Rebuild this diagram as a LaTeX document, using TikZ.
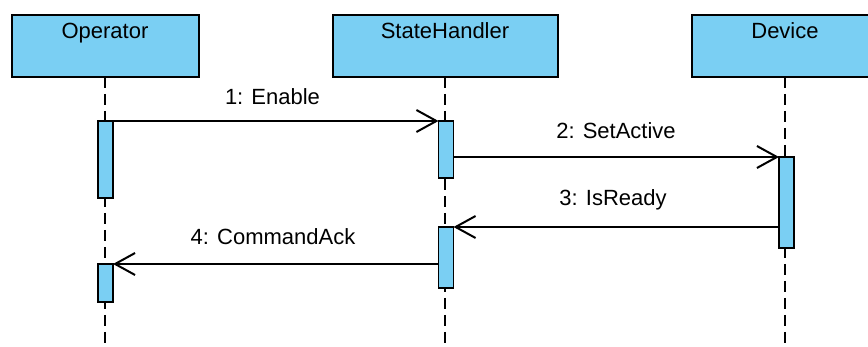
\documentclass[tikz,border=0pt]{standalone}
\usepackage{fontspec}
\setmainfont{Liberation Sans}
\usetikzlibrary{arrows.meta}
\definecolor{actblue}{RGB}{122,207,243}
\tikzset{
  lifebox/.style={draw=black, line width=2pt, fill=actblue, minimum height=62pt, inner sep=0pt, outer sep=0pt},
  boxlabel/.style={anchor=base, yshift=-24pt, font=\fontsize{22}{24}\selectfont, inner sep=0pt},
  lifeline/.style={line width=2pt, dash pattern=on 11pt off 6pt},
  actbar/.style={draw=black, line width=1.5pt, fill=actblue, minimum width=15pt, inner sep=0pt, outer sep=0pt},
  msg/.style={line width=2pt, -{Straight Barb[length=20pt,width=22pt,line width=2pt]}},
  msglabel/.style={font=\fontsize{22}{24}\selectfont, inner sep=0pt, anchor=base}
}
\begin{document}
\begin{tikzpicture}[x=1pt,y=-1pt]
\useasboundingbox (0,0) rectangle (868,347);
% lifeline boxes
\node[lifebox, minimum width=187pt, label={[boxlabel]north:Operator}] (op) at (105,46) {};
\node[lifebox, minimum width=225pt, label={[boxlabel]north:StateHandler}] (sh) at (445,46) {};
\node[lifebox, minimum width=186pt, label={[boxlabel]north:Device}] (dv) at (785,46) {};
% lifeline ends
\coordinate (opend) at (105,350);
\coordinate (shend) at (445,350);
\coordinate (dvend) at (785,350);
\draw[lifeline] (op.south) -- (opend);
\draw[lifeline] (sh.south) -- (shend);
\draw[lifeline] (dv.south) -- (dvend);
% activation bars
\node[actbar, minimum height=77pt] (o1) at (105.5,159.5) {};
\node[actbar, minimum height=38pt] (o2) at (105.5,283) {};
\node[actbar, minimum height=57pt] (s1) at (446,149.5) {};
\node[actbar, minimum height=61pt] (s2) at (446,257.5) {};
\node[actbar, minimum height=91pt] (d1) at (786.5,202.5) {};
% messages
\draw[msg] (o1.north east) -- (s1.north west);
\draw[msg] (s1.east |- d1.north) -- (d1.north west);
\draw[msg] (d1.west |- s2.north) -- (s2.north east);
\draw[msg] (s2.west |- o2.north) -- (o2.north east);
% labels
\node[msglabel] (l1) at (272.5,105) {1: Enable};
\node[msglabel] (l2) at (616,139) {2: SetActive};
\node[msglabel] (l3) at (613,206) {3: IsReady};
\node[msglabel] (l4) at (273,245) {4: CommandAck};
\end{tikzpicture}
\end{document}
